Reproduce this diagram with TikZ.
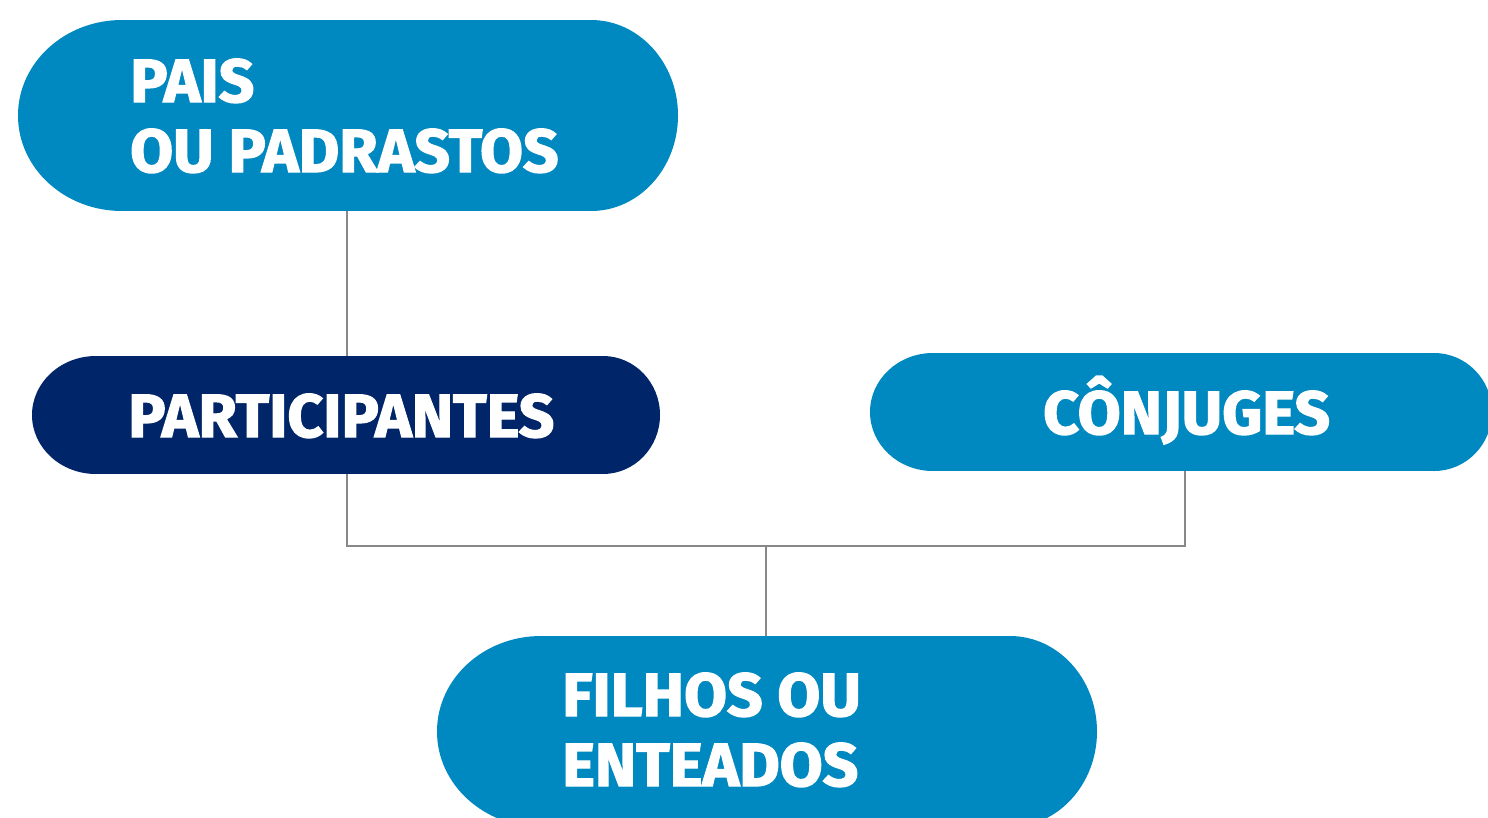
\documentclass[tikz,border=0pt]{standalone}
\usepackage{fontspec}
\newfontfamily\lblfont{Fira Sans}[FakeStretch=1.02, FakeBold=2.2]
\definecolor{pillblue}{RGB}{0,136,193}
\definecolor{pillnavy}{RGB}{0,37,105}
\definecolor{linegray}{RGB}{136,136,136}
\tikzset{
  pillbox/.style={shape=rectangle, draw=none, inner sep=0pt, outer sep=0pt},
  lbl/.style={text=white, font=\lblfont\bfseries\fontsize{61}{70}\selectfont, inner sep=0pt, anchor=base west},
  conn/.style={draw=linegray, line width=2.6pt}
}
\begin{document}
\begin{tikzpicture}[x=1pt,y=-1pt]
\useasboundingbox (0,0) rectangle (1488,817);
% ---- pill: pais
\node[pillbox, minimum width=660pt, minimum height=191pt] (pais) at (348,115.5) {};
\fill[pillblue] (122,20) rectangle (591,211);
\fill[pillblue] (122,115.5) ellipse [x radius=104pt, y radius=95.5pt];
\fill[pillblue] (591,115.5) ellipse [x radius=87pt, y radius=95.5pt];
\node[lbl] (pais1) at (130,102) {PAIS};
\node[lbl] (pais2) at (130,172) {OU PADRASTOS};
% ---- pill: participantes
\node[pillbox, minimum width=628pt, minimum height=118pt] (part) at (346,415) {};
\fill[pillnavy] (96,356) rectangle (603,474);
\fill[pillnavy] (96,415) ellipse [x radius=64pt, y radius=59pt];
\fill[pillnavy] (603,415) ellipse [x radius=57pt, y radius=59pt];
\node[lbl] (partt) at (128,437) {PARTICIPANTES};
% ---- pill: conjuges
\node[pillbox, minimum width=622pt, minimum height=118pt] (conj) at (1181,412) {};
\fill[pillblue] (933,353) rectangle (1434,471);
\fill[pillblue] (933,412) ellipse [x radius=63pt, y radius=59pt];
\fill[pillblue] (1434,412) ellipse [x radius=58pt, y radius=59pt];
\node[lbl] (conjt) at (1043,434) {CÔNJUGES};
% ---- pill: filhos
\node[pillbox, minimum width=660pt, minimum height=191pt] (filhos) at (767,731.5) {};
\fill[pillblue] (541,636) rectangle (1010,827);
\fill[pillblue] (541,731.5) ellipse [x radius=104pt, y radius=95.5pt];
\fill[pillblue] (1010,731.5) ellipse [x radius=87pt, y radius=95.5pt];
\node[lbl] (filhos1) at (562,716) {FILHOS OU};
\node[lbl] (filhos2) at (562,786) {ENTEADOS};
% ---- connectors
\coordinate (jl) at (347,546);
\coordinate (jm) at (766,546);
\coordinate (jr) at (1185,546);
\draw[conn] (pais.south -| jl) -- (jl |- part.north);
\draw[conn] (jl |- part.south) -- (jl) -- (jr) -- (jr |- conj.south);
\draw[conn] (jm) -- (jm |- filhos.north);
\end{tikzpicture}
\end{document}
